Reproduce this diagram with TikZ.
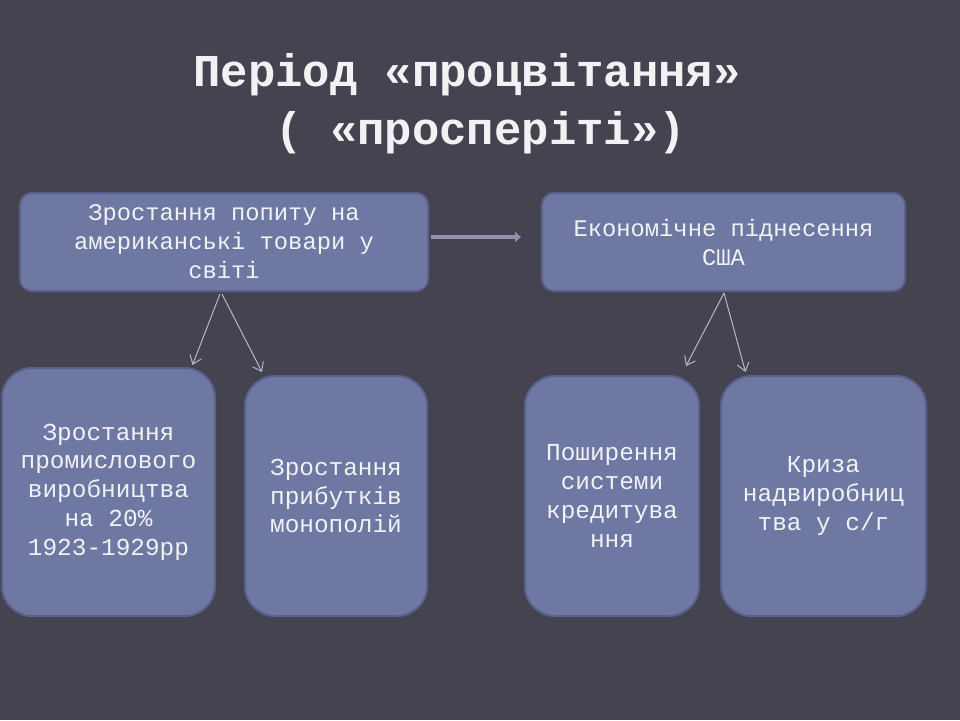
\documentclass[tikz,border=0pt]{standalone}
\usepackage{fontspec}
\setmainfont{Liberation Mono}
\usetikzlibrary{positioning, arrows.meta}
\definecolor{slateBg}{HTML}{44434F}
\definecolor{boxBlue}{HTML}{6E78A2}
\definecolor{boxEdge}{HTML}{59618C}
\definecolor{linkGrey}{HTML}{B4B8C8}
\definecolor{pipeGrey}{HTML}{8E92AC}
\definecolor{paleText}{HTML}{F2F2F4}

\begin{document}
\begin{tikzpicture}[x=0.5pt, y=-0.5pt, text=paleText,
    topbox/.style={draw=boxEdge, line width=1pt, rounded corners=6pt, fill=boxBlue,
      minimum height=49pt, align=center, font=\fontsize{11.9}{14.5}\selectfont},
    lowbox/.style={draw=boxEdge, line width=1pt, rounded corners=15pt, fill=boxBlue,
      minimum height=120pt, align=center, font=\fontsize{12.2}{14.4}\selectfont},
    arr/.style={-{Straight Barb[length=4pt, width=6pt]}, linkGrey, line width=0.5pt},
    pipe/.style={-{Triangle[length=3pt, width=5pt]}, pipeGrey, line width=2.2pt}]
    \fill[slateBg] (0,0) rectangle (960,720);
    \useasboundingbox (0,0) rectangle (960,720);
    \node[font=\bfseries\fontsize{22.8}{29}\selectfont, align=center] (title) at (467,104)
      {Період «процвітання»\\\hphantom{(}( «просперіті»)};
    \node[topbox, minimum width=204pt] (demand) at (224,242)
      {Зростання попиту на\\американські товари у\\світі};
    \node[topbox, minimum width=181.5pt, right=56pt of demand] (boom)
      {Економічне піднесення\\США};
    \node[lowbox, minimum width=106.5pt, minimum height=124pt] (industry) at (108.5,492)
      {Зростання\\промислового\\виробництва\\на 20\%\\1923-1929рр};
    \node[lowbox, minimum width=91pt] (profit) at (336,496)
      {Зростання\\прибутків\\монополій};
    \node[lowbox, minimum width=87pt] (credit) at (612,496)
      {Поширення\\системи\\кредитува\\ння};
    \node[lowbox, minimum width=102.5pt] (crisis) at (823.5,496)
      {Криза\\надвиробниц\\тва у с/г};
    \draw[pipe, shorten <=1pt, shorten >=10pt] ([yshift=2.5pt]demand.east) -- ([yshift=2.5pt]boom.west);
    \draw[arr] ([shift={(-4,2)}]demand.south) -- ([shift={(84,-2)}]industry.north);
    \draw[arr] ([shift={(-2,2)}]demand.south) -- ([shift={(-74,-3)}]profit.north);
    \draw[arr] ([shift={(0.5,1)}]boom.south) -- ([shift={(74,-9)}]credit.north);
    \draw[arr] ([shift={(0.5,1)}]boom.south) -- ([shift={(-78,-3)}]crisis.north);
  \end{tikzpicture}
\end{document}
